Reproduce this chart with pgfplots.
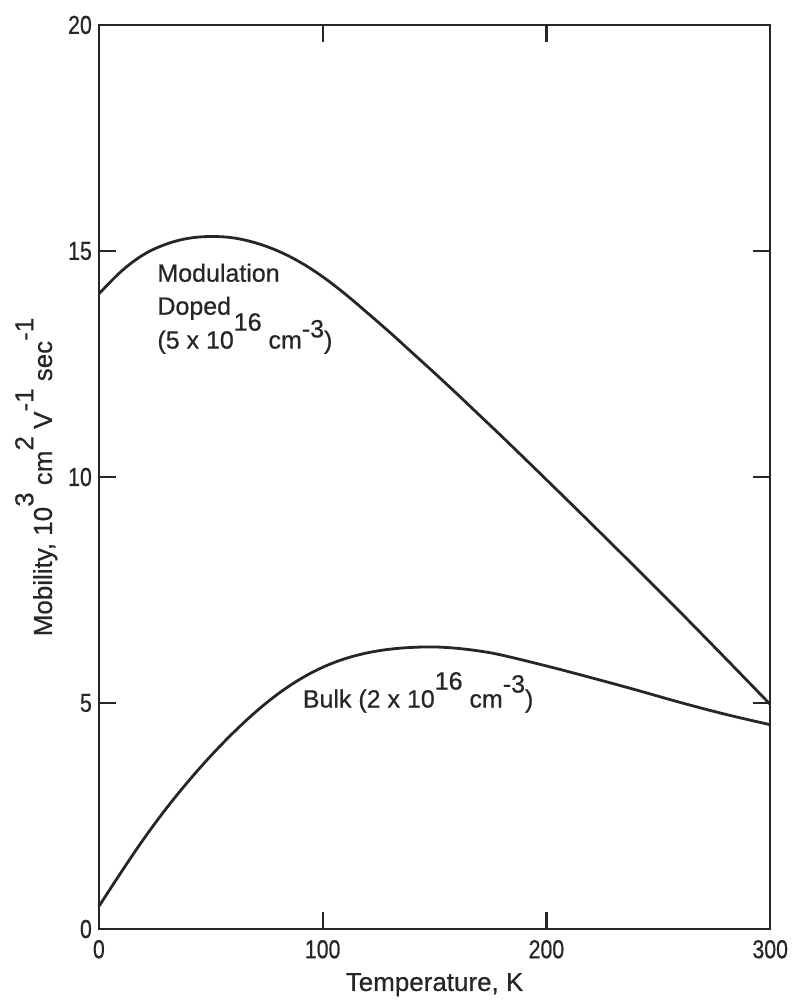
\documentclass[border=0pt]{standalone}
\usepackage{pgfplots}
\pgfplotsset{compat=1.18}
\usepackage{fontspec}
\setmainfont[FakeBold=0.6]{Liberation Sans}
\newfontfamily\tickfont[FakeStretch=0.82,FakeBold=0.6]{Liberation Sans}
\definecolor{ink}{HTML}{262626}
\newcommand{\up}[2][0.72em]{\raisebox{#1}{#2}}
\begin{document}
\begin{tikzpicture}
\begin{axis}[
  scale only axis,
  width=336pt, height=452.5pt,
  xmin=0, xmax=300, ymin=0, ymax=20,
  xtick={0,100,200,300}, ytick={0,5,10,15,20},
  tick align=inside,
  major tick length=8.5pt,
  axis line style={line width=1.2pt, ink},
  tick style={line width=1.1pt, ink},
  /pgf/number format/assume math mode=true,
  ticklabel style={font=\tickfont\fontsize{13}{15}\selectfont, text=ink},
  xticklabel style={yshift=-2pt},
  xlabel={Temperature, K},
  ylabel={Mobility, 10\up{3} cm\up{2} V\up{-1} sec\up{-1}},
  label style={font=\fontsize{13}{15}\selectfont, text=ink},
  xlabel style={at={(axis description cs:0.5,0)}, anchor=base, yshift=-31pt},
  ylabel style={at={(axis description cs:0,0.5)}, anchor=base, yshift=23.5pt},
  clip=false,
]
\addplot[ink, line width=1.4pt, smooth, tension=0.6] coordinates {
 (0,14.05) (10,14.55) (20,14.92) (30,15.15) (40,15.28) (50,15.32) (60,15.29)
 (70,15.18) (80,15.0) (90,14.75) (100,14.43) (110,14.05) (120,13.63) (130,13.2)
 (140,12.75) (150,12.3) (160,11.84) (170,11.37) (180,10.9) (200,9.94) (220,8.97)
 (240,7.99) (260,7.0) (280,5.99) (300,4.97)
};
\addplot[ink, line width=1.4pt, smooth, tension=0.6] coordinates {
 (0,0.5) (10,1.26) (20,1.99) (30,2.66) (40,3.27) (50,3.83) (60,4.34) (70,4.80)
 (80,5.20) (90,5.53) (100,5.79) (110,5.98) (120,6.11) (130,6.19) (140,6.23)
 (150,6.24) (160,6.21) (170,6.15) (180,6.06) (200,5.82) (220,5.56) (240,5.29)
 (260,5.01) (280,4.75) (300,4.52)
};
\node[anchor=base west, inner sep=0pt, text=ink, font=\fontsize{12.5}{14}\selectfont] at (axis cs:26,14.32) {Modulation};
\node[anchor=base west, inner sep=0pt, text=ink, font=\fontsize{12.5}{14}\selectfont] at (axis cs:26,13.59) {Doped};
\node[anchor=base west, inner sep=0pt, text=ink, font=\fontsize{12.5}{14}\selectfont] at (axis cs:26,12.84) {(5 x 10\up{16} cm\up[0.45em]{-3})};
\node[anchor=base west, inner sep=0pt, text=ink, font=\fontsize{12.5}{14}\selectfont] at (axis cs:91,4.9) {Bulk (2 x 10\up{16} cm\up[0.6em]{-3})};
\end{axis}
\path (current axis.south west) ++(-49.5pt,-36.5pt) coordinate (bl);
\path (current axis.north east) ++(10.5pt,12.5pt) coordinate (tr);
\path (bl) rectangle (tr);
\end{tikzpicture}
\end{document}
